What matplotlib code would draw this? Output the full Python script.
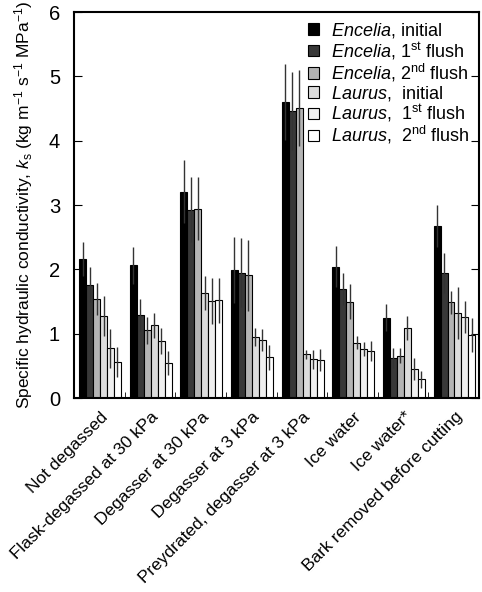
import numpy as np
import matplotlib
matplotlib.use('Agg')
import matplotlib.pyplot as plt
import matplotlib.transforms as mtransforms

plt.rcParams['font.family'] = ['Liberation Sans', 'DejaVu Sans']
plt.rcParams['mathtext.fontset'] = 'custom'
plt.rcParams['mathtext.rm'] = 'Liberation Sans'
plt.rcParams['mathtext.it'] = 'Liberation Sans:italic'

# treatments on x axis
treatments = ['Not degassed', 'Flask-degassed at 30 kPa', 'Degasser at 30 kPa',
              'Degasser at 3 kPa', 'Preydrated, degasser at 3 kPa', 'Ice water',
              'Ice water*', 'Bark removed before cutting']

series_labels = [r'$\it{Encelia}$, initial',
                 r'$\it{Encelia}$, 1$^{\rm st}$ flush',
                 r'$\it{Encelia}$, 2$^{\rm nd}$ flush',
                 r'$\it{Laurus}$,  initial',
                 r'$\it{Laurus}$,  1$^{\rm st}$ flush',
                 r'$\it{Laurus}$,  2$^{\rm nd}$ flush']

# mean ks per treatment
enc_initial = [2.16, 2.06, 3.21, 1.99, 4.60, 2.04, 1.25, 2.67]
enc_flush1  = [1.76, 1.29, 2.93, 1.95, 4.46, 1.69, 0.62, 1.94]
enc_flush2  = [1.54, 1.05, 2.94, 1.91, 4.51, 1.50, 0.66, 1.49]
lau_initial = [1.27, 1.13, 1.63, 0.95, 0.68, 0.86, 1.09, 1.32]
lau_flush1  = [0.77, 0.89, 1.51, 0.90, 0.60, 0.76, 0.45, 1.26]
lau_flush2  = [0.56, 0.54, 1.52, 0.63, 0.59, 0.73, 0.29, 0.98]

# upper end of error bars
enc_initial_hi = [2.43, 2.35, 3.70, 2.50, 5.19, 2.36, 1.46, 3.00]
enc_flush1_hi  = [2.03, 1.54, 3.43, 2.49, 5.07, 1.94, 0.78, 2.25]
enc_flush2_hi  = [1.79, 1.26, 3.43, 2.46, 5.10, 1.77, 0.78, 1.67]
lau_initial_hi = [1.58, 1.32, 1.89, 1.09, 0.75, 0.96, 1.28, 1.73]
lau_flush1_hi  = [1.07, 1.09, 1.87, 1.07, 0.75, 0.87, 0.62, 1.51]
lau_flush2_hi  = [0.80, 0.73, 1.87, 0.83, 0.76, 0.88, 0.42, 1.25]

means = [enc_initial, enc_flush1, enc_flush2, lau_initial, lau_flush1, lau_flush2]
highs = [enc_initial_hi, enc_flush1_hi, enc_flush2_hi, lau_initial_hi, lau_flush1_hi, lau_flush2_hi]
colors = ['#000000', '#383838', '#b4b4b4', '#dcdcdc', '#efefef', '#ffffff']

fig = plt.figure(figsize=(4.82, 5.92), dpi=100)
ax = fig.add_axes([0.1535, 0.3277, 0.8405, 0.652])

n = len(treatments)
x = np.arange(n)
w = 0.138
for i in range(6):
    pos = x + 0.1 + w * i + w / 2
    m = np.array(means[i])
    err = np.array(highs[i]) - m
    ax.bar(pos, m, width=w, color=colors[i], edgecolor='black', linewidth=0.8,
           label=series_labels[i])
    ax.errorbar(pos, m, yerr=err, fmt='none', ecolor='#333333', elinewidth=1, capsize=0)

ax.set_xlim(0, n)
ax.set_ylim(0, 6)
ax.set_yticks(range(0, 7))
ax.tick_params(axis='y', direction='in', right=True, labelsize=14.5, length=6, pad=10)
ax.set_xticks(x + 0.5)
ax.set_xticklabels(treatments, rotation=45, ha='right', va='center',
                   rotation_mode='anchor', fontsize=12.5)
ax.tick_params(axis='x', length=0, pad=12)
ax.set_xticks(x[1:], minor=True)
ax.tick_params(axis='x', which='minor', direction='in', length=4)
# nudge labels a bit to the right
shift = mtransforms.ScaledTranslation(6 / 100, 0, fig.dpi_scale_trans)
for lab in ax.get_xticklabels():
    lab.set_transform(lab.get_transform() + shift)
for s in ax.spines.values():
    s.set_linewidth(1.5)

ax.set_ylabel(r'Specific hydraulic conductivity, $\it{k}_{\rm s}$ (kg m$^{-1}$ s$^{-1}$ MPa$^{-1}$)',
              fontsize=12.5, labelpad=10)

ax.legend(loc='upper right', frameon=False, fontsize=13, handlelength=0.6, handleheight=0.6,
          handletextpad=0.7, labelspacing=0.0, borderaxespad=0.2, borderpad=0.3)

fig.savefig('out.png', dpi=100)
